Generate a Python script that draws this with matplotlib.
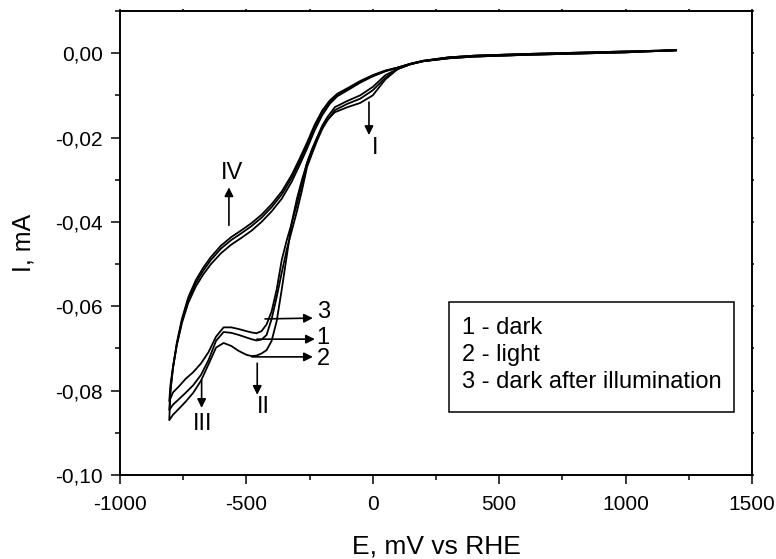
import numpy as np
import matplotlib
matplotlib.use('Agg')
import matplotlib.pyplot as plt
import matplotlib.ticker as mticker
from matplotlib.patches import Rectangle

plt.rcParams['font.family'] = ['Liberation Sans', 'DejaVu Sans']
plt.rcParams['axes.unicode_minus'] = False

# cathodic sweep (1200 -> -805 mV), common potential grid
e_cath = [1200, 1000, 800, 600, 400, 300, 200, 150, 100, 50, 0, -50, -100, -150,
          -180, -200, -220, -240, -260, -280, -300, -320, -340, -360, -380, -400,
          -420, -440, -460, -480, -500, -530, -560, -590, -620, -650, -680, -710,
          -740, -770, -790, -805]

# 1 - dark
i_cath_1 = [0.0007, 0.0002, -0.0001, -0.0004, -0.0008, -0.0012, -0.0019, -0.0026,
            -0.0037, -0.0058, -0.0088, -0.0108, -0.0120, -0.0135, -0.0160, -0.0180,
            -0.0207, -0.0238, -0.0270, -0.0325, -0.0375, -0.0420, -0.0465, -0.0520,
            -0.0578, -0.0630, -0.0668, -0.0679, -0.0681, -0.0678, -0.0674, -0.0668,
            -0.0663, -0.0661, -0.0682, -0.0728, -0.0763, -0.0787, -0.0805, -0.0822,
            -0.0833, -0.0846]
# 2 - light
i_cath_2 = [0.0007, 0.0002, -0.0001, -0.0004, -0.0008, -0.0012, -0.0019, -0.0026,
            -0.0037, -0.0062, -0.0100, -0.0118, -0.0128, -0.0140, -0.0158, -0.0175,
            -0.0200, -0.0228, -0.0260, -0.0300, -0.0345, -0.0400, -0.0480, -0.0560,
            -0.0635, -0.0682, -0.0704, -0.0712, -0.0717, -0.0718, -0.0715, -0.0706,
            -0.0694, -0.0687, -0.0698, -0.0738, -0.0777, -0.0805, -0.0826, -0.0845,
            -0.0857, -0.0870]
# 3 - dark after illumination
i_cath_3 = [0.0007, 0.0002, -0.0001, -0.0004, -0.0008, -0.0012, -0.0019, -0.0026,
            -0.0037, -0.0052, -0.0080, -0.0100, -0.0113, -0.0128, -0.0152, -0.0172,
            -0.0200, -0.0228, -0.0260, -0.0310, -0.0358, -0.0402, -0.0443, -0.0490,
            -0.0560, -0.0612, -0.0643, -0.0659, -0.0664, -0.0662, -0.0659, -0.0654,
            -0.0650, -0.0650, -0.0672, -0.0709, -0.0736, -0.0756, -0.0772, -0.0792,
            -0.0804, -0.0825]

# anodic sweep (-805 -> 1200 mV)
e_anod = [-805, -800, -790, -775, -755, -730, -700, -670, -640, -600, -560, -520,
          -480, -440, -400, -360, -320, -290, -260, -230, -200, -170, -140, -100,
          -50, 0, 50, 100, 150, 200, 300, 400, 600, 800, 1000, 1200]

i_anod_1 = [-0.0846, -0.0795, -0.0745, -0.0690, -0.0635, -0.0585, -0.0545, -0.0515,
            -0.0490, -0.0463, -0.0443, -0.0427, -0.0410, -0.0390, -0.0365, -0.0335,
            -0.0295, -0.0258, -0.0218, -0.0175, -0.0140, -0.0115, -0.0098, -0.0085,
            -0.0068, -0.0053, -0.0042, -0.0034, -0.0025, -0.0018, -0.0010, -0.0006,
            -0.0002, 0.0001, 0.0004, 0.0007]
i_anod_2 = [-0.0870, -0.0800, -0.0745, -0.0686, -0.0630, -0.0579, -0.0538, -0.0508,
            -0.0483, -0.0456, -0.0436, -0.0420, -0.0403, -0.0383, -0.0358, -0.0328,
            -0.0288, -0.0251, -0.0212, -0.0170, -0.0136, -0.0112, -0.0096, -0.0083,
            -0.0066, -0.0052, -0.0041, -0.0034, -0.0025, -0.0018, -0.0010, -0.0006,
            -0.0002, 0.0001, 0.0004, 0.0007]
i_anod_3 = [-0.0825, -0.0785, -0.0742, -0.0692, -0.0640, -0.0592, -0.0553, -0.0524,
            -0.0500, -0.0474, -0.0454, -0.0438, -0.0421, -0.0400, -0.0375, -0.0345,
            -0.0304, -0.0266, -0.0226, -0.0183, -0.0147, -0.0120, -0.0102, -0.0088,
            -0.0070, -0.0055, -0.0043, -0.0034, -0.0025, -0.0018, -0.0010, -0.0006,
            -0.0002, 0.0001, 0.0004, 0.0007]

legend_lines = ['1 - dark', '2 - light', '3 - dark after illumination']

fig = plt.figure(figsize=(7.76, 5.59), dpi=100)
ax = fig.add_axes([0.1546, 0.1503, 0.8144, 0.830])

for ic, ia in [(i_cath_1, i_anod_1), (i_cath_2, i_anod_2), (i_cath_3, i_anod_3)]:
    ax.plot(e_cath + e_anod, ic + ia, '-', color='k', lw=1.3)

ax.set_xlim(-1000, 1500)
ax.set_ylim(-0.10, 0.01)
ax.xaxis.set_major_locator(mticker.MultipleLocator(500))
ax.xaxis.set_minor_locator(mticker.MultipleLocator(250))
ax.yaxis.set_major_locator(mticker.FixedLocator([-0.10, -0.08, -0.06, -0.04, -0.02, 0.0]))
ax.yaxis.set_minor_locator(mticker.MultipleLocator(0.01))
ax.xaxis.set_major_formatter(mticker.FuncFormatter(lambda v, p: '%d' % round(v)))
ax.yaxis.set_major_formatter(mticker.FuncFormatter(
    lambda v, p: ('%.2f' % v).replace('.', ',').replace('-0,00', '0,00')))

ax.tick_params(which='major', direction='out', length=6.5, width=1.1, labelsize=15)
ax.tick_params(axis='y', which='major', pad=6)
ax.tick_params(axis='x', which='major', pad=8)
ax.tick_params(which='minor', direction='out', length=3.3, width=1.1)
ax.tick_params(which='both', top=True, right=True)
# tiny marks on the top and right frame
for t in ax.xaxis.get_major_ticks() + ax.xaxis.get_minor_ticks():
    t.tick2line.set_markersize(1.5)
for t in ax.yaxis.get_major_ticks() + ax.yaxis.get_minor_ticks():
    t.tick2line.set_markersize(1.5)
for s in ax.spines.values():
    s.set_linewidth(1.4)

ax.set_xlabel('E, mV vs RHE', fontsize=19, labelpad=15)
ax.set_ylabel('I, mA', fontsize=18, labelpad=14)

# peak markers
arr = dict(arrowstyle='-|>', color='k', lw=1.2, mutation_scale=13, shrinkA=0, shrinkB=0)
fs = 17
ax.annotate('', xy=(-237, -0.0628), xytext=(-426, -0.0630), arrowprops=arr)
ax.annotate('', xy=(-229, -0.0678), xytext=(-458, -0.0678), arrowprops=arr)
ax.annotate('', xy=(-237, -0.0720), xytext=(-478, -0.0720), arrowprops=arr)
ax.text(-222, -0.0614, '3', fontsize=fs, ha='left', va='center')
ax.text(-222, -0.0675, '1', fontsize=fs, ha='left', va='center')
ax.text(-222, -0.0724, '2', fontsize=fs, ha='left', va='center')

ax.annotate('', xy=(-457, -0.0810), xytext=(-457, -0.0735), arrowprops=arr)
ax.text(-434, -0.0840, 'II', fontsize=fs, ha='center', va='center')
ax.annotate('', xy=(-677, -0.0841), xytext=(-677, -0.0775), arrowprops=arr)
ax.text(-672, -0.0878, 'III', fontsize=fs, ha='center', va='center')
ax.annotate('', xy=(-569, -0.0318), xytext=(-569, -0.0408), arrowprops=arr)
ax.text(-557, -0.0283, 'IV', fontsize=fs, ha='center', va='center')
ax.annotate('', xy=(-15, -0.0194), xytext=(-15, -0.0116), arrowprops=arr)
ax.text(8, -0.0224, 'I', fontsize=fs, ha='center', va='center')

# legend box
ax.add_patch(Rectangle((0.5206, 0.1358), 0.4509, 0.237, transform=ax.transAxes,
                       fill=False, ec='k', lw=1.1))
for k, txt in enumerate(legend_lines):
    ax.text(0.541, 0.317 - k * 0.0585, txt, transform=ax.transAxes,
            fontsize=17, ha='left', va='center')

fig.savefig('out.png', dpi=100)
